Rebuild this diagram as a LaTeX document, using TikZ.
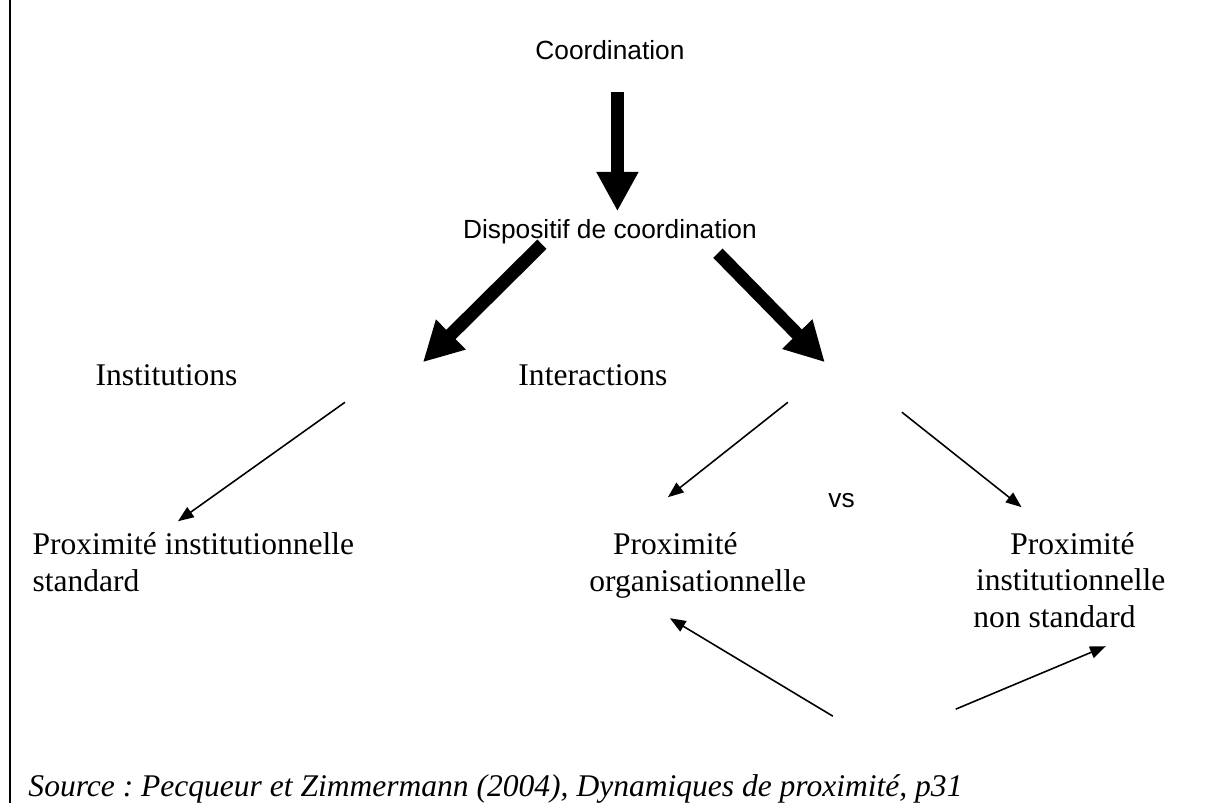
\documentclass[tikz,border=0pt]{standalone}
\usepackage{fontspec}
\setmainfont{Liberation Serif}
\setsansfont{Liberation Sans}
\usetikzlibrary{arrows.meta}

\begin{document}
\begin{tikzpicture}[
  big/.style={-{Triangle[length=15pt,width=15pt]},line width=5pt},
  thin/.style={-{Triangle[length=6pt,width=4.6pt]},line width=0.6pt},
  serif/.style={font=\fontsize{12}{13.8}\selectfont,inner sep=0pt,align=left},
  sans/.style={font=\sffamily\fontsize{10}{12}\selectfont,inner sep=0pt},
]
\useasboundingbox (0,0) rectangle (16.14,10.74);

% frame line on the left
\draw[line width=0.8pt] (0.134,0) -- (0.134,10.74);

% ------------------------------------------------------------------ labels
% (base of a two- or three-line node is the baseline of its last line)
\node[sans,anchor=base]        (coord) at (8.156,9.947) {Coordination};
\node[sans,anchor=base]        (disp)  at (8.156,7.554) {Dispositif de coordination};
\node[serif,anchor=base west]  (inst)  at (1.270,5.589) {Institutions};
\node[serif,anchor=base west]  (inter) at (6.926,5.589) {Interactions};
\node[sans,anchor=base west]   (vs)    at (11.07,3.958) {vs};
\node[serif,anchor=base west]  (pis)   at (0.428,2.834) {Proximité institutionnelle\\standard};
\node[serif,anchor=base west]  (porg)  at (7.875,2.834) {\hspace*{9pt}Proximité\\organisationnelle};
\node[serif,anchor=base west]  (pins)  at (13.01,2.353) {\hspace*{14pt}Proximité\\\hspace*{1pt}institutionnelle\\non standard};
\node[serif,anchor=base west,font=\itshape\fontsize{12}{13.8}\selectfont\frenchspacing]
      (src) at (0.374,0.094) {Source : Pecqueur et Zimmermann (2004), Dynamiques de proximité, p31};

% ------------------------------------------------------- arrow end points
\coordinate (d0) at (8.256,9.506);  \coordinate (d1) at (8.256,7.915);
\coordinate (l0) at (7.247,7.474);  \coordinate (l1) at (5.655,5.896);
\coordinate (r0) at (9.600,7.354);  \coordinate (r1) at (11.03,5.896);
\coordinate (a0) at (4.613,5.361);  \coordinate (a1) at (2.380,3.770);
\coordinate (b0) at (10.536,5.361); \coordinate (b1) at (8.931,4.091);
\coordinate (c0) at (12.06,5.228);  \coordinate (c1) at (13.66,3.958);
\coordinate (e0) at (11.137,1.163); \coordinate (e1) at (8.958,2.473);
\coordinate (f0) at (12.78,1.257);  \coordinate (f1) at (14.787,2.099);

% ------------------------------------------------------------- thick arrows
\draw[big] (d0) -- (d1);
\draw[big] (l0) -- (l1);
\draw[big] (r0) -- (r1);

% -------------------------------------------------------------- thin arrows
\draw[thin] (a0) -- (a1);
\draw[thin] (b0) -- (b1);
\draw[thin] (c0) -- (c1);
\draw[thin] (e0) -- (e1);
\draw[thin] (f0) -- (f1);

\end{tikzpicture}
\end{document}
